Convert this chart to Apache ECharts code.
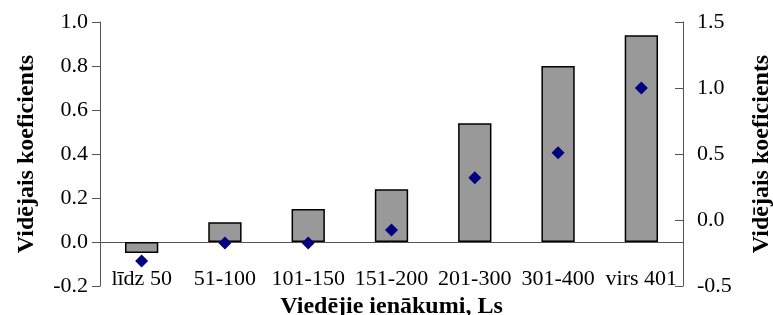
<!DOCTYPE html>
<html>
<head>
<meta charset="utf-8">
<script src="https://cdn.jsdelivr.net/npm/echarts@6/dist/echarts.min.js"></script>
<style>
  html, body { margin: 0; padding: 0; background: #fff; }
  #chart { width: 773px; height: 315px; }
</style>
</head>
<body>
<div id="chart"></div>
<script>
const categories = ['līdz 50', '51-100', '101-150', '151-200', '201-300', '301-400', 'virs 401'];
const barValues = [-0.05, 0.09, 0.15, 0.24, 0.54, 0.80, 0.94];
const diamondValues = [-0.31, -0.175, -0.175, -0.075, 0.32, 0.51, 1.0];
const leftTicks = { min: -0.2, max: 1.0, step: 0.2 };
const rightTicks = { min: -0.5, max: 1.5, step: 0.5 };

const chart = echarts.init(document.getElementById('chart'));
const font = '"Liberation Serif", "Times New Roman", serif';
const axisColor = '#555';
const titleStyle = { fontFamily: font, fontSize: 24, fontWeight: 'bold', color: '#000' };

const option = {
    animation: false,
    grid: { left: 100, right: 90, top: 22, bottom: 29, outerBoundsMode: 'none' },
    xAxis: [{
        // zero line with the category ticks
        type: 'category',
        data: categories,
        position: 'bottom',
        axisLine: { onZero: true, onZeroAxisIndex: 0, lineStyle: { color: axisColor, width: 1 } },
        axisTick: { length: 7, lineStyle: { color: axisColor } },
        axisLabel: { show: false },
        splitLine: { show: false }
    }, {
        // labels and title sit at the bottom
        type: 'category',
        data: categories,
        position: 'bottom',
        name: 'Viedējie ienākumi, Ls',
        nameLocation: 'middle',
        nameGap: -12,
        nameTextStyle: titleStyle,
        axisLine: { show: false, onZero: false },
        axisTick: { show: false },
        axisLabel: { interval: 0, margin: -18, fontFamily: font, fontSize: 22, color: '#000' },
        splitLine: { show: false }
    }],
    yAxis: [{
        type: 'value',
        min: leftTicks.min,
        max: leftTicks.max,
        interval: leftTicks.step,
        name: 'Vidējais koeficients',
        nameLocation: 'middle',
        nameGap: 61,
        nameTextStyle: titleStyle,
        axisLine: { show: true, lineStyle: { color: axisColor } },
        axisTick: { show: true, length: 8, lineStyle: { color: axisColor } },
        axisLabel: { fontFamily: font, fontSize: 22, color: '#000', margin: 12,
            formatter: v => v.toFixed(1) },
        splitLine: { show: false }
    }, {
        type: 'value',
        position: 'right',
        min: rightTicks.min,
        max: rightTicks.max,
        interval: rightTicks.step,
        name: 'Vidējais koeficients',
        nameLocation: 'middle',
        nameGap: 67,
        nameRotate: 90,
        nameTextStyle: titleStyle,
        axisLine: { show: true, lineStyle: { color: axisColor } },
        axisTick: { show: true, length: 8, inside: true, lineStyle: { color: axisColor } },
        axisLabel: { fontFamily: font, fontSize: 22, color: '#000', margin: 14,
            formatter: v => v.toFixed(1) },
        splitLine: { show: false }
    }],
    series: [{
        type: 'bar',
        data: barValues,
        xAxisIndex: 0,
        yAxisIndex: 0,
        barWidth: '40%',
        itemStyle: { color: '#999999', borderColor: '#000', borderWidth: 1.5 }
    }, {
        type: 'scatter',
        data: diamondValues,
        xAxisIndex: 0,
        yAxisIndex: 1,
        symbol: 'diamond',
        symbolSize: 13,
        itemStyle: { color: '#000080', opacity: 1 }
    }]
};
chart.setOption(option);
</script>
</body>
</html>
